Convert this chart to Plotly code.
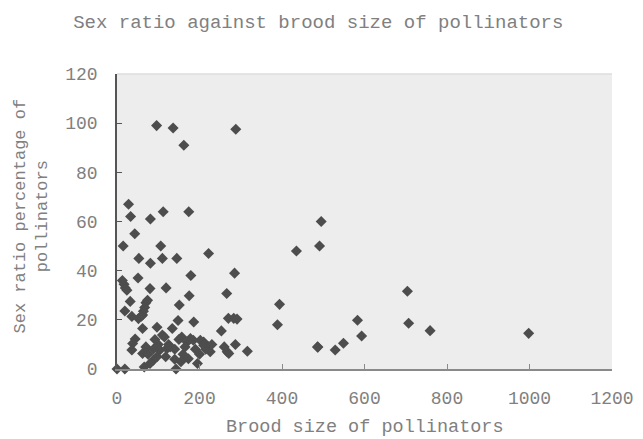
import plotly.graph_objects as go

brood_size = [96, 136, 162, 288,
              28, 33, 81, 112, 174, 495,
              43, 15, 106, 110, 53, 81, 145, 222,
              179, 51, 285, 435, 491,
              13, 17, 20, 24,
              80, 119, 266, 175,
              32, 70, 74, 67, 64, 62, 59,
              151, 394,
              19, 36, 52, 148, 186,
              270, 283, 291, 389,
              62, 97, 134, 253,
              110, 115, 44, 38, 157, 170,
              178, 185, 202, 210, 210, 222,
              36, 62, 104, 121, 129,
              88, 97, 80, 173, 195,
              287, 260, 267, 271, 316, 226, 486,
              66, 0, 19, 143,
              704, 583, 707, 759, 998, 593, 487, 529, 549,
              125, 140, 150, 160, 165, 190, 200, 215, 230, 140, 155, 118, 100, 92, 75, 70, 88]
sex_ratio = [99, 98, 91, 97.5,
             67, 62, 61, 64, 64, 60,
             55, 50, 50, 45, 45, 43, 45, 47,
             38, 37, 39, 48, 50,
             36, 34.5, 33, 32,
             32.7, 33, 30.7, 29.8,
             27.5, 27, 28, 25, 23.5, 22, 21.5,
             26, 26.3,
             23.6, 21.4, 20.5, 19.7, 19.1,
             20.6, 20.6, 20.3, 18,
             16.5, 17, 16.5, 15.5,
             13.8, 13, 12.2, 10.4, 13, 11,
             12.4, 11.7, 11.7, 11, 9.7, 9,
             7.7, 6.3, 7.7, 8.3, 9,
             3.6, 5, 2.2, 4.2, 2.2,
             10, 9, 7, 6.3, 7.2, 7, 9,
             0.8, 0, 0, 0,
             31.6, 19.8, 18.6, 15.6, 14.5, 13.4, 8.9, 7.7, 10.5,
             10, 8, 12, 6, 9, 8, 6, 8, 10, 4, 3, 5, 10, 12, 6, 9, 8]

x_ticks = [0, 200, 400, 600, 800, 1000, 1200]
y_ticks = [0, 20, 40, 60, 80, 100, 120]

title_text = "Sex ratio against brood size of pollinators"
x_title = "Brood size of pollinators"
y_title = "Sex ratio percentage of<br>pollinators"

FONT = "Liberation Mono"
TXT = "#808080"

fig = go.Figure()
fig.add_trace(go.Scatter(
    x=brood_size, y=sex_ratio, mode="markers",
    marker=dict(symbol="diamond", size=8.5, color="#4d4d4d", line=dict(width=0)),
    showlegend=False, cliponaxis=False))

fig.update_layout(
    width=643, height=439,
    margin=dict(l=117, r=31, t=74, b=70, autoexpand=False),
    paper_bgcolor="white", plot_bgcolor="#ededed",
    font=dict(family=FONT, color=TXT, size=18),
    title=dict(text=title_text, x=0.495, xref="container", xanchor="center",
               y=1 - 21 / 439, yref="container", yanchor="middle",
               font=dict(family=FONT, size=19, color=TXT)),
    annotations=[
        dict(text=x_title, xref="paper", yref="paper", x=0.5, y=0,
             xanchor="center", yanchor="middle", yshift=-58, showarrow=False,
             font=dict(family=FONT, size=18.5, color=TXT)),
        dict(text=y_title, xref="paper", yref="paper", x=0, y=0.5,
             xanchor="center", yanchor="middle", xshift=-86, yshift=5,
             textangle=-90, showarrow=False,
             font=dict(family=FONT, size=17, color=TXT)),
    ],
    shapes=[dict(type="line", xref="paper", yref="paper", x0=0, x1=1, y0=1, y1=1,
                 line=dict(color="#dcdcdc", width=1.5))],
)
fig.update_xaxes(range=[0, 1200], tickvals=x_ticks, ticktext=[str(v) for v in x_ticks],
                 automargin=False,
                 showgrid=False, zeroline=False, showline=True, linecolor="#8a8a8a",
                 linewidth=1.5, ticks="inside", ticklen=5, tickcolor="#8a8a8a",
                 ticklabelstandoff=12, tickfont=dict(family=FONT, size=18, color=TXT))
fig.update_yaxes(range=[0, 120], tickvals=y_ticks, ticktext=[str(v) for v in y_ticks],
                 automargin=False,
                 showgrid=False, zeroline=False, showline=True, linecolor="#555555",
                 linewidth=1.5, ticks="inside", ticklen=5, tickcolor="#555555",
                 ticklabelstandoff=14, tickfont=dict(family=FONT, size=18, color=TXT))

fig.write_html("out.html", config={"displayModeBar": False},
               post_script="document.body.style.margin='0';document.body.style.overflow='hidden';")
